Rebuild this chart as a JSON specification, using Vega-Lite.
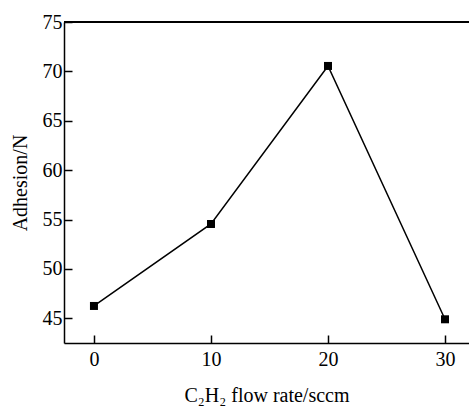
{
  "$schema": "https://vega.github.io/schema/vega-lite/v6.json",
  "autosize": "none",
  "width": 405,
  "height": 321,
  "padding": {"left": 64, "top": 22, "right": 0, "bottom": 65},
  "background": "white",
  "config": {
    "view": {"stroke": null},
    "font": "Liberation Serif",
    "axis": {
      "labelFont": "Liberation Serif",
      "titleFont": "Liberation Serif",
      "labelFontSize": 20,
      "titleFontSize": 20,
      "titleFontWeight": "normal",
      "labelColor": "black",
      "titleColor": "black",
      "domainColor": "black",
      "tickColor": "black",
      "domainWidth": 1.5,
      "tickWidth": 1.5,
      "grid": false
    }
  },
  "data": {
    "values": [
      {"flow": 0, "adhesion": 46.25},
      {"flow": 10, "adhesion": 54.55},
      {"flow": 20, "adhesion": 70.55},
      {"flow": 30, "adhesion": 44.9}
    ]
  },
  "layer": [
    {
      "mark": {"type": "rule", "color": "black", "strokeWidth": 2},
      "encoding": {"y": {"datum": 75, "type": "quantitative"}}
    },
    {
      "mark": {"type": "line", "color": "black", "strokeWidth": 1.5},
      "encoding": {
        "x": {
          "field": "flow",
          "type": "quantitative",
          "scale": {"domain": [-2.56, 32.05], "nice": false, "zero": false},
          "axis": {
            "values": [0, 10, 20, 30],
            "title": "C₂H₂ flow rate/sccm",
            "tickSize": -8,
            "labelPadding": 14,
            "titlePadding": 16
          }
        },
        "y": {
          "field": "adhesion",
          "type": "quantitative",
          "scale": {"domain": [42.5, 75], "nice": false, "zero": false},
          "axis": {
            "values": [45, 50, 55, 60, 65, 70, 75],
            "title": "Adhesion/N",
            "tickSize": -8,
            "labelPadding": 10,
            "titlePadding": 12
          }
        }
      }
    },
    {
      "mark": {"type": "point", "shape": "square", "filled": true, "color": "black", "size": 64, "opacity": 1},
      "encoding": {
        "x": {"field": "flow", "type": "quantitative"},
        "y": {"field": "adhesion", "type": "quantitative"}
      }
    }
  ]
}
